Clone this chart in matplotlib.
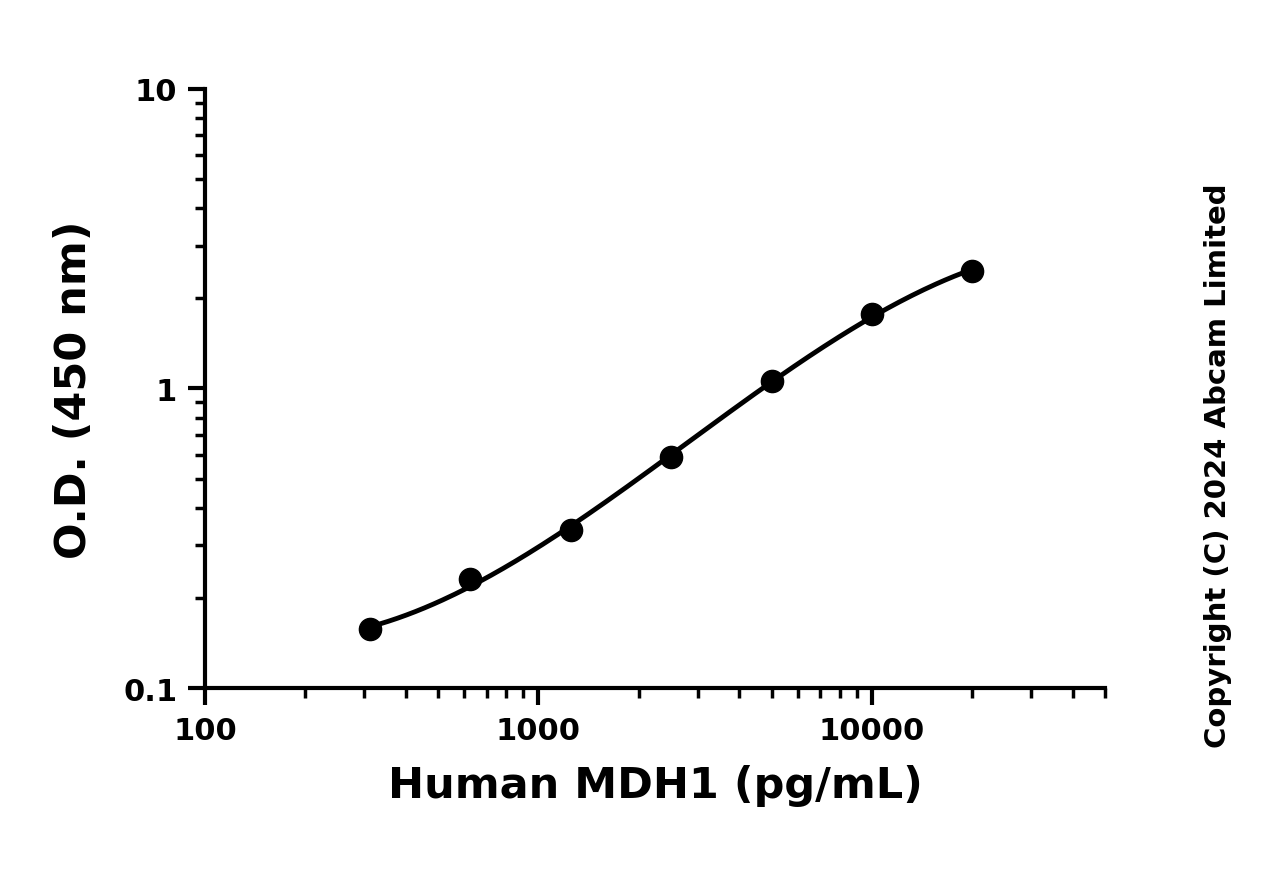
import numpy as np
import matplotlib.pyplot as plt

conc = [312.5, 625, 1250, 2500, 5000, 10000, 20000]
od = [0.157, 0.231, 0.336, 0.589, 1.06, 1.77, 2.47]

plt.rcParams['font.family'] = 'DejaVu Sans'
plt.rcParams['font.weight'] = 'bold'

fig = plt.figure(figsize=(12.81, 8.70), dpi=100)
ax = fig.add_axes([0.16, 0.208, 0.7026, 0.6886])

# smooth curve through the points (cubic in log-log space)
lx = np.log10(conc)
ly = np.log10(od)
coef = np.polyfit(lx, ly, 3)
xs = np.linspace(lx[0], lx[-1], 200)
ax.plot(10**xs, 10**np.polyval(coef, xs), color='black', lw=3.5)
ax.plot(conc, od, 'o', color='black', ms=16)

ax.set_xscale('log')
ax.set_yscale('log')
ax.set_xlim(100, 50000)
ax.set_ylim(0.1, 10)
ax.set_xticks([100, 1000, 10000])
ax.set_xticklabels(['100', '1000', '10000'])
ax.set_yticks([0.1, 1, 10])
ax.set_yticklabels(['0.1', '1', '10'])

for s in ['top', 'right']:
    ax.spines[s].set_visible(False)
for s in ['left', 'bottom']:
    ax.spines[s].set_linewidth(3)
ax.tick_params(which='major', length=12, width=3, labelsize=22, pad=8)
ax.tick_params(which='minor', length=7, width=2.5)

ax.set_xlabel('Human MDH1 (pg/mL)', fontsize=31, fontweight='bold', labelpad=14)
ax.set_ylabel('O.D. (450 nm)', fontsize=31, fontweight='bold', labelpad=20)

fig.text(0.951, 0.465, 'Copyright (C) 2024 Abcam Limited', rotation=90,
         fontsize=21, fontweight='bold', ha='center', va='center')

fig.savefig('out.png', dpi=100)
